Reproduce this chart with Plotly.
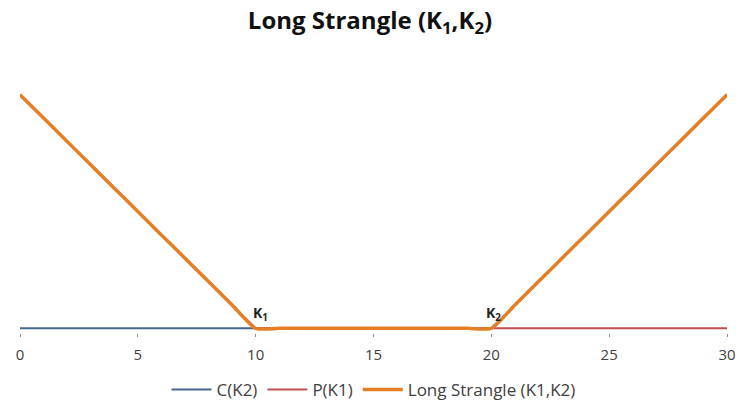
import plotly.graph_objects as go

K1 = 10
K2 = 20
S = list(range(0, 31))
call_k2 = [max(s - K2, 0) for s in S]
put_k1 = [max(K1 - s, 0) for s in S]
strangle = [c + p for c, p in zip(call_k2, put_k1)]
x_ticks = [0, 5, 10, 15, 20, 25, 30]

fig = go.Figure()
fig.add_trace(go.Scatter(x=S, y=call_k2, mode="lines", name="C(K2)",
                         line=dict(color="#46678C", width=2)))
fig.add_trace(go.Scatter(x=S, y=put_k1, mode="lines", name="P(K1)",
                         line=dict(color="#C0504D", width=2)))
fig.add_trace(go.Scatter(x=S, y=strangle, mode="lines", name="Long Strangle (K1,K2)",
                         line=dict(color="#E47F26", width=3.5, shape="spline", smoothing=0.6)))

fig.add_annotation(x=K1, y=0, text="<b>K<sub>1</sub></b>", showarrow=False,
                   xanchor="left", yanchor="bottom", xshift=-5, yshift=2,
                   font=dict(size=14, color="#222222", family="Open Sans"))
fig.add_annotation(x=K2, y=0, text="<b>K<sub>2</sub></b>", showarrow=False,
                   xanchor="left", yanchor="bottom", xshift=-7, yshift=2,
                   font=dict(size=14, color="#222222", family="Open Sans"))

fig.update_layout(
    width=740, height=405,
    margin=dict(l=20, r=13, t=48, b=72, autoexpand=False),
    paper_bgcolor="white", plot_bgcolor="white",
    title=dict(text="<b>Long Strangle (K<sub>1</sub>,K<sub>2</sub>)</b>", x=0.5, xanchor="center",
               y=0.95, yanchor="middle",
               font=dict(size=24, color="#111111", family="Open Sans")),
    showlegend=True,
    legend=dict(orientation="h", x=0.5, xanchor="center", y=-0.2, yanchor="middle",
                font=dict(size=17, color="#404040", family="Open Sans"),
                itemwidth=40, tracegroupgap=0),
    font=dict(family="Open Sans"),
)
fig.update_xaxes(range=[0, 30], tickvals=x_ticks, showgrid=False, zeroline=False,
                 showline=False, automargin=False, layer="below traces",
                 ticks="outside", ticklen=3, tickcolor="#8C8C8C", ticklabelstandoff=5,
                 tickfont=dict(size=15, color="#404040", family="Open Sans"))
fig.update_yaxes(range=[-0.2, 12], showgrid=False, zeroline=True, zerolinecolor="#8C8C8C",
                 zerolinewidth=1, showline=False, layer="below traces",
                 showticklabels=False, ticks="", automargin=False)

fig.write_html("out.html", post_script="document.body.style.margin='0';",
               config={"displayModeBar": False})
